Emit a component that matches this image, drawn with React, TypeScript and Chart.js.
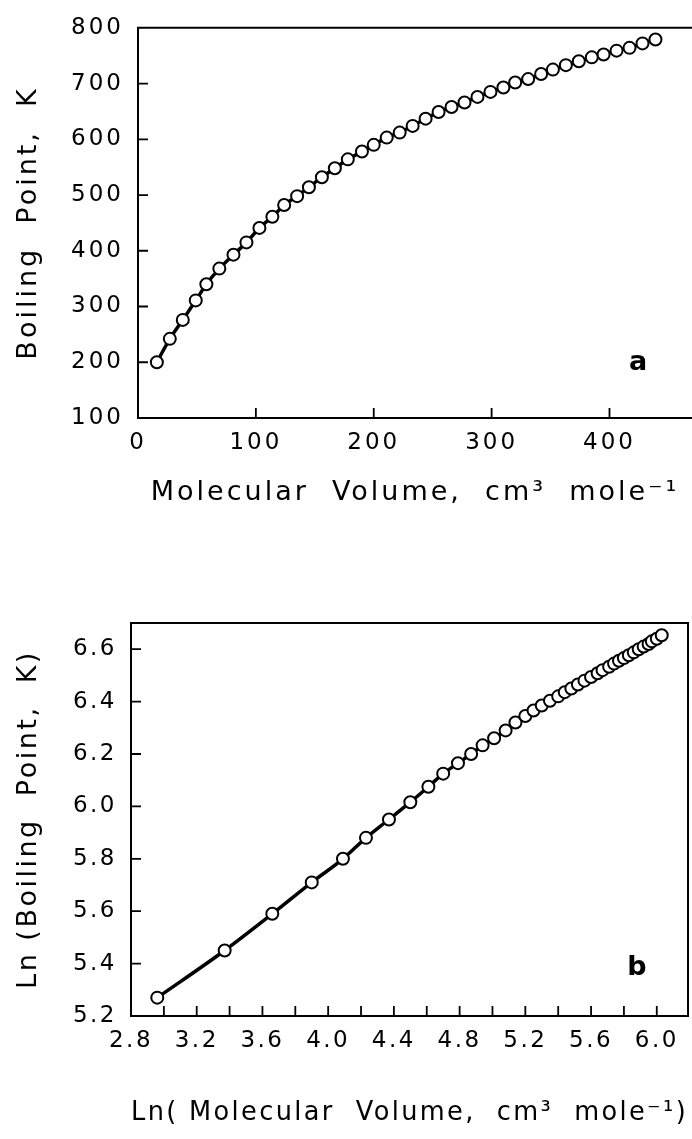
import React, { useEffect, useRef } from 'react';
import { Chart, registerables } from 'chart.js';

Chart.register(...registerables);

// ---- Panel a: Boiling point vs molecular volume ----
const topVolume = [16, 27, 38, 49, 58, 69, 81, 92, 103, 114, 124, 135, 145, 156, 167, 178, 190, 200, 211, 222, 233, 244, 255, 266, 277, 288, 299, 310, 320, 331, 342, 352, 363, 374, 385, 395, 406, 417, 428, 439];
const topBoilingPoint = [200, 242, 276, 311, 340, 368, 393, 415, 441, 461, 482, 498, 514, 532, 548, 564, 578, 590, 603, 612, 624, 637, 649, 658, 666, 676, 685, 693, 702, 708, 717, 725, 733, 740, 747, 752, 759, 764, 772, 779];
const topXTicks = [0, 100, 200, 300, 400];
const topYTicks = [100, 200, 300, 400, 500, 600, 700, 800];

// ---- Panel b: Ln(boiling point) vs Ln(molecular volume) ----
const lnVolume = [2.96, 3.37, 3.66, 3.90, 4.09, 4.23, 4.37, 4.50, 4.61, 4.70, 4.79, 4.87, 4.94, 5.01, 5.08, 5.14, 5.20, 5.25, 5.30, 5.35, 5.40, 5.44, 5.48, 5.52, 5.56, 5.60, 5.64, 5.67, 5.71, 5.74, 5.77, 5.80, 5.83, 5.86, 5.89, 5.92, 5.95, 5.97, 6.00, 6.03];
const lnBoilingPoint = [5.27, 5.45, 5.59, 5.71, 5.80, 5.88, 5.95, 6.016, 6.075, 6.125, 6.165, 6.20, 6.233, 6.26, 6.29, 6.32, 6.345, 6.366, 6.385, 6.403, 6.42, 6.436, 6.45, 6.465, 6.48, 6.494, 6.508, 6.52, 6.533, 6.545, 6.556, 6.566, 6.577, 6.588, 6.60, 6.61, 6.62, 6.63, 6.64, 6.653];
const lnXLabelTicks = [2.8, 3.2, 3.6, 4.0, 4.4, 4.8, 5.2, 5.6, 6.0];
const lnXMarkTicks = [3.0, 3.2, 3.4, 3.6, 3.8, 4.0, 4.2, 4.4, 4.6, 4.8, 5.0, 5.2, 5.4, 5.6, 5.8, 6.0];
const lnYTicks = [5.2, 5.4, 5.6, 5.8, 6.0, 6.2, 6.4, 6.6];

const FONT = '"DejaVu Sans", sans-serif';

function framePlugin(letter: string, drawRight: boolean, xMarks: number[], yMarks: number[], dx: number, dy: number, spacing: string) {
  return {
    id: 'plotFrame',
    beforeUpdate(chart: any) {
      (chart.ctx as any).letterSpacing = spacing;
    },
    beforeDraw(chart: any) {
      (chart.ctx as any).letterSpacing = spacing;
    },
    afterDraw(chart: any) {
      const { ctx, chartArea: a, scales } = chart;
      const xs = scales.x;
      const ys = scales.y;
      ctx.save();
      ctx.strokeStyle = '#000';
      ctx.lineWidth = 2;
      ctx.beginPath();
      if (drawRight) {
        ctx.rect(a.left, a.top, a.right - a.left, a.bottom - a.top);
      } else {
        ctx.moveTo(a.right, a.top);
        ctx.lineTo(a.left, a.top);
        ctx.lineTo(a.left, a.bottom);
        ctx.lineTo(a.right, a.bottom);
      }
      ctx.stroke();
      ctx.lineWidth = 1.8;
      ctx.beginPath();
      const L = 10;
      for (const v of xMarks) {
        const px = xs.getPixelForValue(v);
        ctx.moveTo(px, a.bottom);
        ctx.lineTo(px, a.bottom - L);
      }
      for (const v of yMarks) {
        const py = ys.getPixelForValue(v);
        ctx.moveTo(a.left, py);
        ctx.lineTo(a.left + L, py);
      }
      ctx.stroke();
      (ctx as any).letterSpacing = '0px';
      ctx.font = 'bold 27px ' + FONT;
      ctx.fillStyle = '#000';
      ctx.textAlign = 'center';
      ctx.textBaseline = 'middle';
      ctx.fillText(letter, a.right + dx, a.bottom + dy);
      ctx.restore();
    },
  };
}

function makeChart(
  canvas: HTMLCanvasElement,
  opts: {
    xs: number[]; ys: number[];
    xMin: number; xMax: number; yMin: number; yMax: number;
    xLabelTicks: number[]; yLabelTicks: number[];
    xMarks: number[]; yMarks: number[];
    xTitle: string; yTitle: string;
    yAxisWidth: number; xAxisHeight: number;
    padTop: number; padRight: number;
    decimals: number;
    letter: string; drawRight: boolean; dx: number; dy: number;
    xTitlePadBottom: number;
    spacing: string;
  }
) {
  const data = opts.xs.map((x, i) => ({ x, y: opts.ys[i] }));
  const fmt = (v: any) => (opts.decimals ? Number(v).toFixed(opts.decimals) : String(v));
  return new Chart(canvas, {
    type: 'line',
    data: {
      datasets: [
        {
          data,
          borderColor: '#000',
          borderWidth: 3.5,
          backgroundColor: '#fff',
          pointRadius: 6,
          pointBorderWidth: 2,
          pointBorderColor: '#000',
          pointBackgroundColor: '#fff',
          cubicInterpolationMode: 'monotone',
          clip: false,
        } as any,
      ],
    },
    options: {
      animation: false,
      responsive: false,
      layout: { autoPadding: false, padding: { top: opts.padTop, right: opts.padRight, left: 0, bottom: 0 } },
      plugins: { legend: { display: false }, tooltip: { enabled: false } },
      scales: {
        x: {
          type: 'linear',
          min: opts.xMin,
          max: opts.xMax,
          grid: { display: false, drawTicks: false },
          border: { display: false },
          afterBuildTicks: (s: any) => {
            s.ticks = opts.xLabelTicks.map((v) => ({ value: v }));
          },
          afterFit: (s: any) => {
            s.height = opts.xAxisHeight;
          },
          ticks: {
            autoSkip: false,
            maxRotation: 0,
            color: '#000',
            padding: 11,
            font: { family: FONT, size: 23 },
            callback: (v: any) => fmt(v),
          },
          title: {
            display: true,
            text: opts.xTitle,
            color: '#000',
            font: { family: FONT, size: 27 },
            padding: { top: 0, bottom: opts.xTitlePadBottom },
          },
        },
        y: {
          type: 'linear',
          min: opts.yMin,
          max: opts.yMax,
          grid: { display: false, drawTicks: false },
          border: { display: false },
          afterBuildTicks: (s: any) => {
            s.ticks = opts.yLabelTicks.map((v) => ({ value: v }));
          },
          afterFit: (s: any) => {
            s.width = opts.yAxisWidth;
          },
          ticks: {
            autoSkip: false,
            color: '#000',
            padding: 14,
            font: { family: FONT, size: 23 },
            callback: (v: any) => fmt(v),
          },
          title: {
            display: true,
            text: opts.yTitle,
            color: '#000',
            font: { family: FONT, size: 27 },
            padding: { top: 13, bottom: 0 },
          },
        },
      },
    },
    plugins: [framePlugin(opts.letter, opts.drawRight, opts.xMarks, opts.yMarks, opts.dx, opts.dy, opts.spacing)],
  } as any);
}

export default function App() {
  const topRef = useRef<HTMLCanvasElement | null>(null);
  const botRef = useRef<HTMLCanvasElement | null>(null);

  useEffect(() => {
    document.body.style.margin = '0';
    document.body.style.background = '#fff';
    const c1 = makeChart(topRef.current!, {
      xs: topVolume, ys: topBoilingPoint,
      xMin: 0, xMax: 470, yMin: 100, yMax: 800,
      xLabelTicks: topXTicks, yLabelTicks: topYTicks,
      xMarks: [100, 200, 300, 400], yMarks: [200, 300, 400, 500, 600, 700],
      xTitle: 'Molecular  Volume,  cm³  mole⁻¹',
      yTitle: 'Boiling  Point,  K',
      yAxisWidth: 138, xAxisHeight: 112,
      padTop: 24, padRight: 0, decimals: 0,
      letter: 'a', drawRight: false, dx: -54, dy: -55,
      xTitlePadBottom: 21,
      spacing: '3px',
    });
    const c2 = makeChart(botRef.current!, {
      xs: lnVolume, ys: lnBoilingPoint,
      xMin: 2.8, xMax: 6.19, yMin: 5.2, yMax: 6.7,
      xLabelTicks: lnXLabelTicks, yLabelTicks: lnYTicks,
      xMarks: lnXMarkTicks, yMarks: [5.4, 5.6, 5.8, 6.0, 6.2, 6.4, 6.6],
      xTitle: 'Ln( Molecular  Volume,  cm³  mole⁻¹)',
      yTitle: 'Ln (Boiling  Point,  K)',
      yAxisWidth: 131, xAxisHeight: 123,
      padTop: 83, padRight: 4, decimals: 1,
      letter: 'b', drawRight: true, dx: -51, dy: -48,
      xTitlePadBottom: 10,
      spacing: '2.5px',
    });
    return () => {
      c1.destroy();
      c2.destroy();
    };
  }, []);

  return (
    <div style={{ position: 'relative', width: 692, height: 1139, background: '#fff' }}>
      <canvas ref={topRef} width={692} height={530} style={{ position: 'absolute', left: 0, top: 0, width: 692, height: 530 }} />
      <canvas ref={botRef} width={692} height={599} style={{ position: 'absolute', left: 0, top: 540, width: 692, height: 599 }} />
    </div>
  );
}
